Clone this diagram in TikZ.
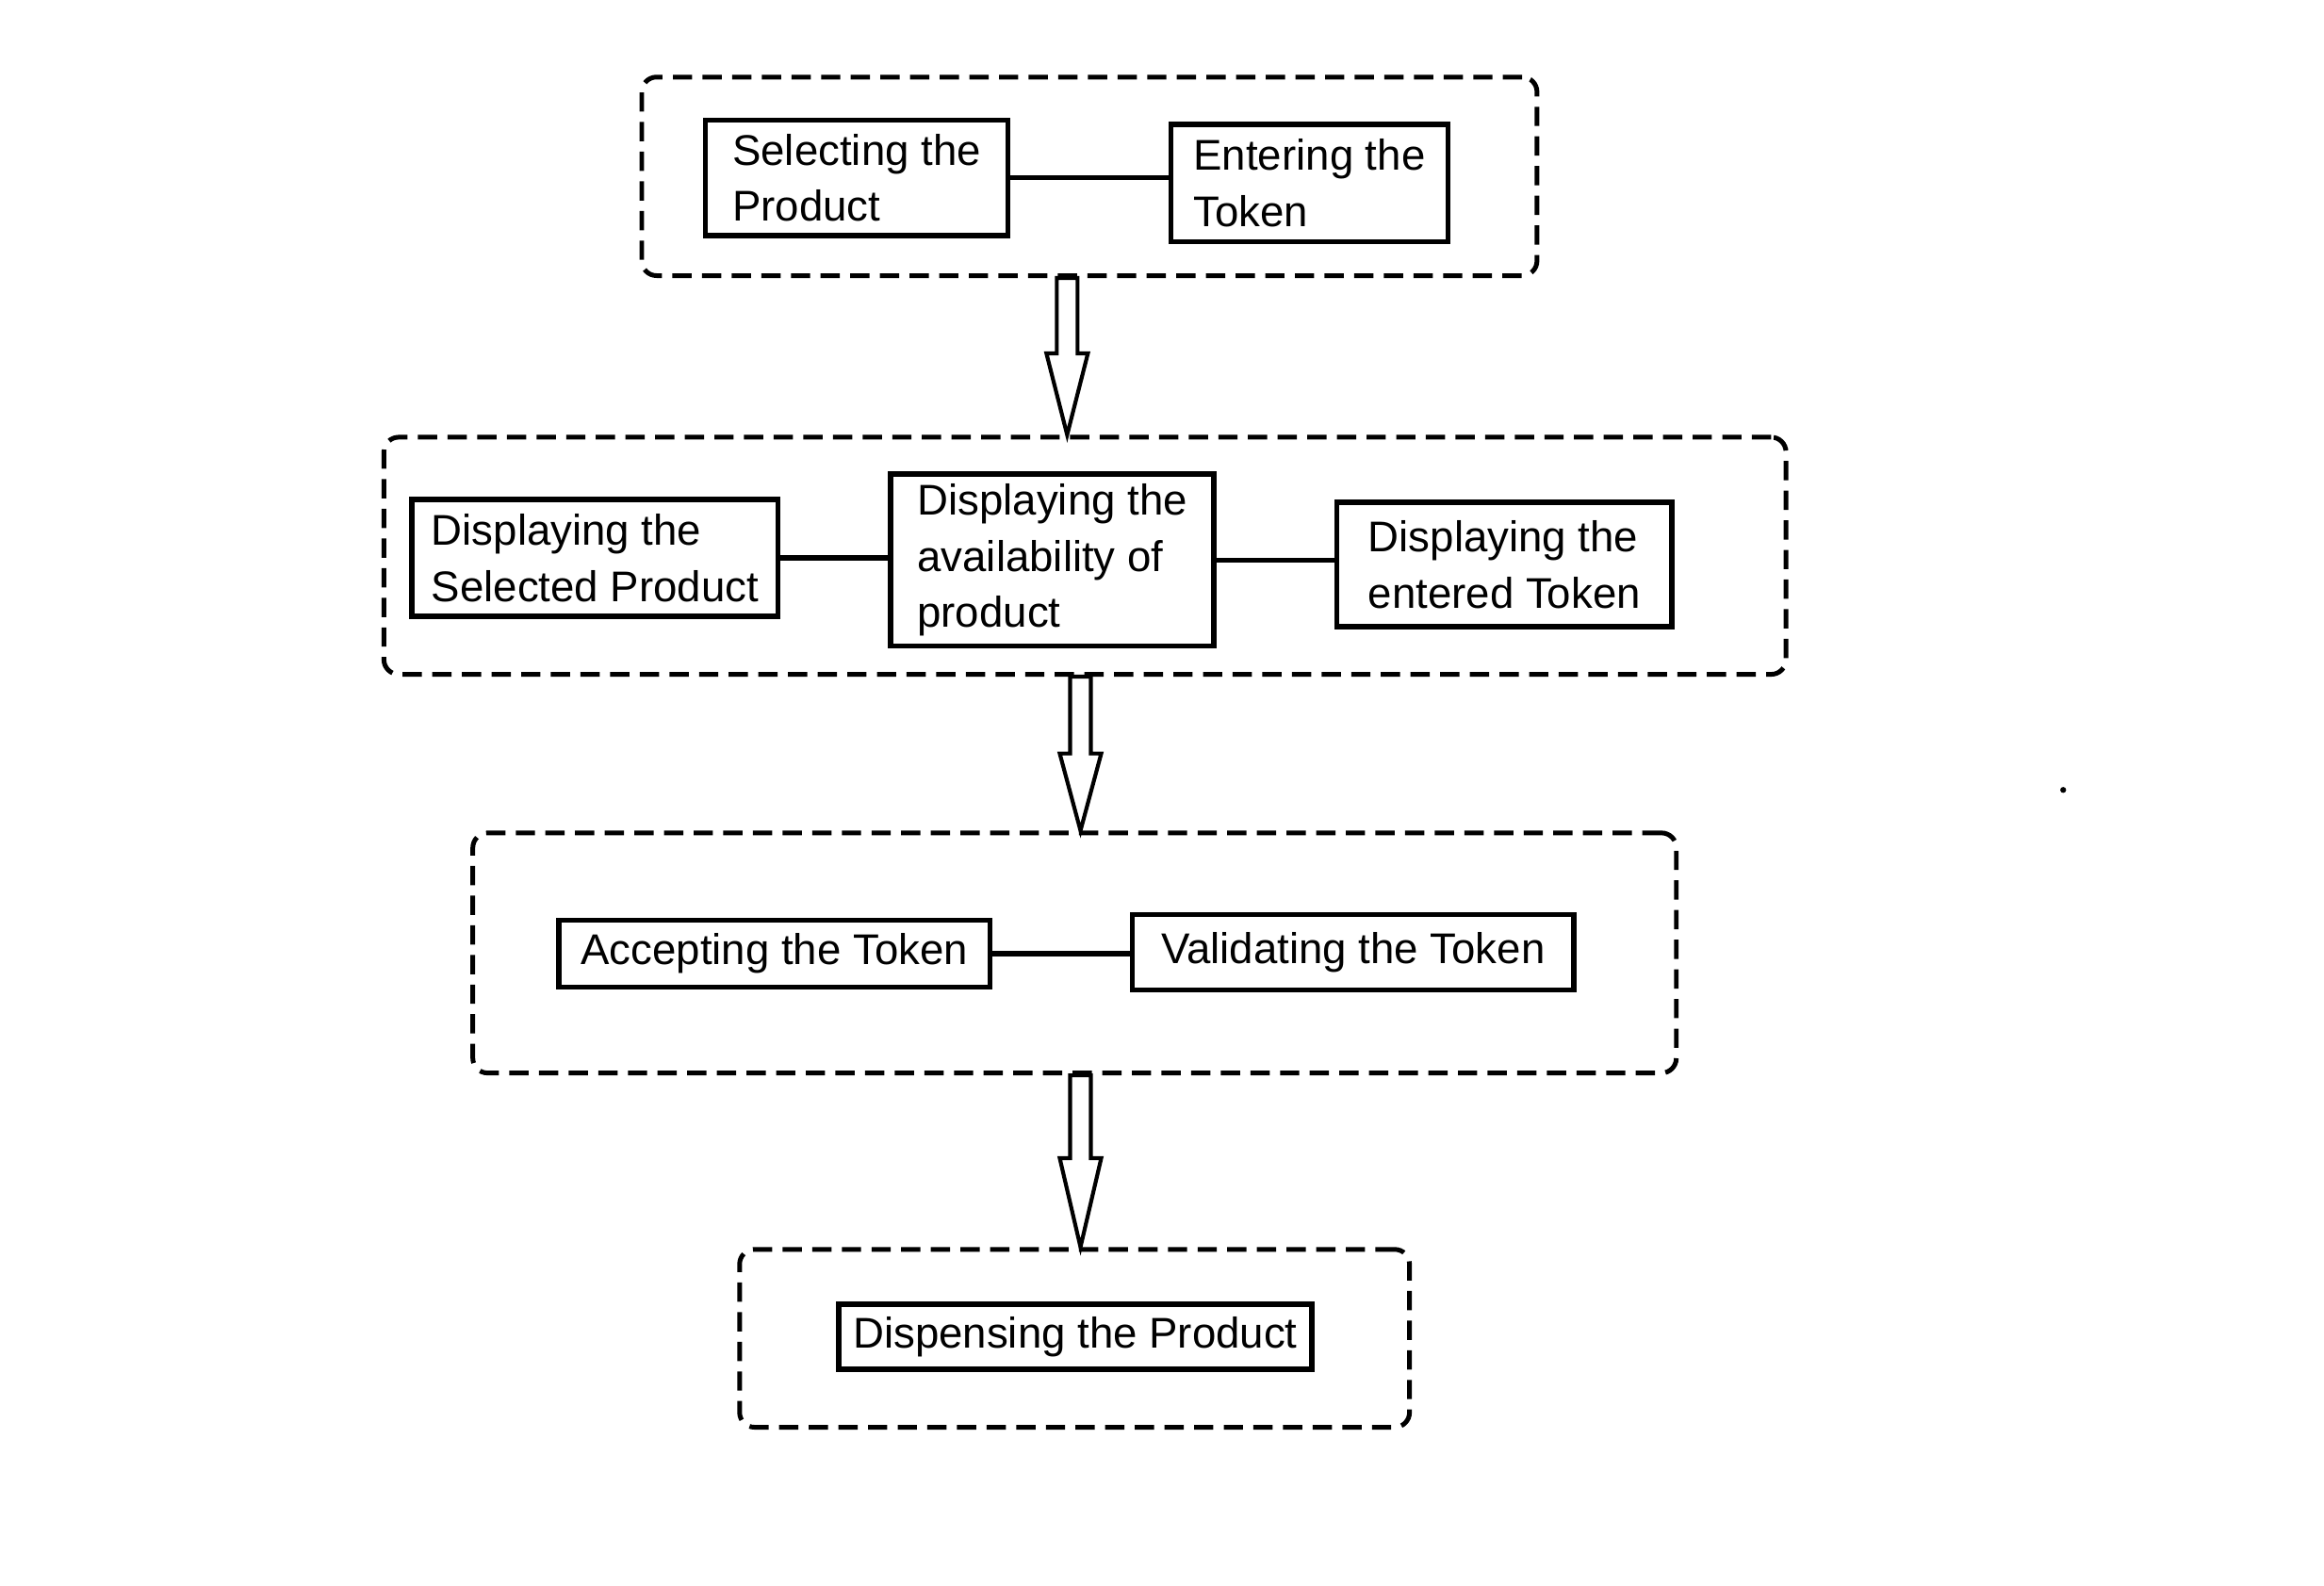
\documentclass[tikz,border=0pt]{standalone}
\usepackage{fontspec}
\setmainfont{Liberation Sans}
\def\upx{0.2mm}
\newcommand\hollowarrow[3]{%
  \draw[blockarrow] ([xshift=-7*\upx]#1) -- ([xshift=-7*\upx,yshift=#3*\upx]#2)
    -- ([xshift=-14*\upx,yshift=#3*\upx]#2) -- (#2)
    -- ([xshift=14*\upx,yshift=#3*\upx]#2) -- ([xshift=7*\upx,yshift=#3*\upx]#2)
    -- ([xshift=7*\upx]#1) -- cycle;}
\begin{document}
\begin{tikzpicture}[x=0.2mm,y=-0.2mm,
  box/.style={draw, line width=2pt, align=left, inner sep=0pt, font=\fontsize{16.5}{21.5}\selectfont},
  group/.style={draw, line width=1.8pt, dash pattern=on 2.6mm off 1.4mm, rounded corners=2mm, inner sep=0pt},
  link/.style={line width=2pt},
  blockarrow/.style={draw, fill=white, line width=1.5pt, line join=miter}]
\useasboundingbox (0,0) rectangle (1568,1070);
% groups
\node[group, minimum width=604*\upx, minimum height=134*\upx] (g1) at (735,119) {};
\node[group, minimum width=946*\upx, minimum height=160*\upx] (g2) at (732,375) {};
\node[group, minimum width=812*\upx, minimum height=162*\upx] (g3) at (725,643) {};
\node[group, minimum width=452*\upx, minimum height=120*\upx] (g4) at (725,903) {};
% arrows
\coordinate (a1t) at (720,0 |- g1.south);
\coordinate (a1b) at (720,0 |- g2.north);
\coordinate (a2t) at (729,0 |- g2.south);
\coordinate (a2b) at (729,0 |- g3.north);
\coordinate (a3t) at (729,0 |- g3.south);
\coordinate (a3b) at (729,0 |- g4.north);
\hollowarrow{a1t}{a1b}{55}
\hollowarrow{a2t}{a2b}{52}
\hollowarrow{a3t}{a3b}{60}
% boxes
\node[box, minimum width=204*\upx, minimum height=78*\upx] (sel) at (578,120) {Selecting the\\Product};
\node[box, minimum width=187*\upx, minimum height=79*\upx] (ent) at (883.5,123.5) {Entering the\\Token};
\node[box, minimum width=247*\upx, minimum height=79*\upx] (dsp) at (401.5,376.5) {Displaying the\\Selected Product};
\node[box, minimum width=218*\upx, minimum height=116*\upx] (avl) at (710,378) {Displaying the\\availability of\\product};
\node[box, minimum width=226*\upx, minimum height=84*\upx] (det) at (1015,381) {Displaying the\\entered Token};
\node[box, minimum width=291*\upx, minimum height=45*\upx] (acc) at (522.5,643.5) {Accepting the Token};
\node[box, minimum width=298*\upx, minimum height=51*\upx] (val) at (913,642.5) {Validating the Token};
\node[box, minimum width=319*\upx, minimum height=44*\upx] (dis) at (725.5,902) {Dispensing the Product};
% connectors
\draw[link] (sel.east) -- (sel.east -| ent.west);
\draw[link] (dsp.east) -- (dsp.east -| avl.west);
\draw[link] (avl.east) -- (avl.east -| det.west);
\draw[link] (acc.east) -- (acc.east -| val.west);
% stray dot
\fill (1392,533) circle (2*\upx);
\end{tikzpicture}
\end{document}
